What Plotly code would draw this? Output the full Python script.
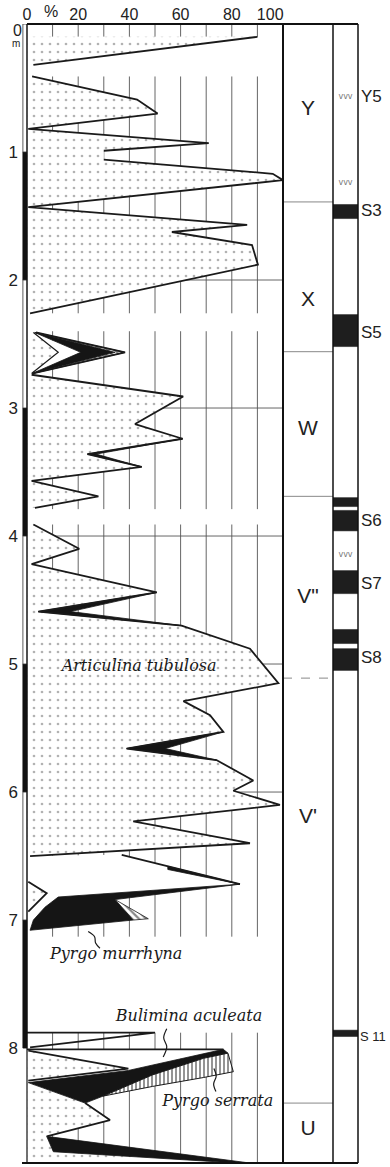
import plotly.graph_objects as go

# ---------------- axis / tick data ----------------
pct_tickvals = [0, 20, 40, 60, 80, 95]
pct_ticktext = ["0", "20", "40", "60", "80", "100"]
depth_tickvals = [1, 2, 3, 4, 5, 6, 7, 8]
grid_pct = [10, 20, 30, 40, 50, 60, 70, 80, 90]
grid_depth = [2, 3, 4, 5, 6]
grid_block_top = [0.0, 0.41, 2.40, 3.91, 7.88]
grid_block_bot = [0.10, 2.26, 3.79, 7.13, 8.898]
depth_bar_black_top = [1, 3, 5, 7]
depth_bar_white_top = [0, 2, 4, 6]

# ---------------- Articulina tubulosa (%), profile segments ----------------
art1_depth = [0.10, 0.32]
art1_pct = [90, 2.5]
art2_depth = [0.41, 0.59, 0.70, 0.82, 0.93, 0.99, 1.06, 1.17, 1.22, 1.43, 1.57, 1.625, 1.727, 1.88, 2.26]
art2_pct = [2, 43, 51, 0.5, 71, 30, 30, 96, 100, 0.5, 86, 56.6, 87.9, 90.2, 1.2]
art3_depth = [2.41, 2.565, 2.73]
art3_pct = [2.5, 12.2, 1.8]
art4_depth = [2.74, 2.91, 3.125, 3.24, 3.36, 3.46, 3.57, 3.69, 3.78]
art4_pct = [1.8, 61, 42.2, 60.8, 23.6, 44.8, 1.8, 27.9, 3.1]
art5_depth = [3.91, 4.10, 4.22, 4.44, 4.59, 4.70, 4.88, 5.15, 5.29, 5.40, 5.53, 5.66, 5.75,
              5.91, 5.99, 6.10, 6.23, 6.40, 6.50]
art5_pct = [2.5, 20.4, 1.8, 50.7, 4.4, 60.4, 87.1, 98.2, 61.1, 71.5, 76.7, 38.9, 74,
            88.4, 80.6, 98.8, 41.5, 87.1, 1.2]
art6_depth = [6.70, 6.79, 6.935]
art6_pct = [0.5, 7.7, 0.5]
art7_depth = [8.02, 8.16, 8.255]
art7_pct = [0.5, 39.6, 0.5]
art8_depth = [8.27, 8.43, 8.5625, 8.69, 8.81, 8.89, 8.898]
art8_pct = [0.5, 22.7, 32.4, 7.7, 10.3, 75.4, 75.4]

# ---------------- zigzag at 2.4-2.7 m (cumulative %) ----------------
zz_depth = [2.41, 2.565, 2.73]
zz_white = [3.0, 21.0, 2.0]
zz_black = [3.3, 34.4, 2.2]
zz_hatch = [3.5, 38.3, 2.3]

# ---------------- Pyrgo murrhyna slivers (cumulative %) ----------------
murr_a_depth = [3.24, 3.36, 3.46]
murr_a_lo = [60.8, 23.6, 44.8]
murr_a_hi = [60.8, 27.0, 44.8]
murr_b_depth = [4.44, 4.59, 4.70]
murr_b_lo = [50.7, 4.4, 60.4]
murr_b_hi = [50.7, 17.0, 60.4]
murr_c_depth = [5.53, 5.66, 5.75]
murr_c_lo = [76.7, 38.9, 74.0]
murr_c_hi = [76.7, 54.0, 74.0]

# ---------------- 6.5-7.1 m ----------------
bul1_pct = [0, 37, 83.2, 12.2, 7.0, 2.5, 1.2, 0]
bul1_depth = [6.50, 6.49, 6.72, 6.82, 6.90, 7.00, 7.08, 7.08]
murr_main_pct = [83.2, 12.2, 7.0, 2.5, 1.2, 41.5, 34.4]
murr_main_depth = [6.72, 6.82, 6.90, 7.00, 7.08, 7.00, 6.84]
murr_arm_pct = [55, 83.2, 55]
murr_arm_depth = [6.58, 6.72, 6.605]
ser1_pct = [34.4, 47.4, 41.5]
ser1_depth = [6.84, 6.99, 7.00]

# ---------------- 7.9-8.9 m ----------------
bul2_pct = [0, 50, 1.2]
bul2_depth = [7.88, 7.88, 7.995]
bul3_pct = [0, 76.7, 39.6, 0.5, 0]
bul3_depth = [8.01, 8.01, 8.175, 8.27, 8.27]
murr_bot_pct = [0.5, 39.6, 76.7, 78.5, 69, 49, 29.8, 22.7]
murr_bot_depth = [8.27, 8.175, 8.01, 8.04, 8.08, 8.21, 8.375, 8.43]
ser_bot_pct = [29.8, 49, 69, 78.5, 80.6, 69, 49]
ser_bot_depth = [8.375, 8.21, 8.08, 8.04, 8.185, 8.23, 8.30]
murr_base_pct = [7.7, 87, 75.4, 10.3]
murr_base_depth = [8.69, 8.898, 8.89, 8.81]

# ---------------- species labels & pointers ----------------
species_text = ["Articulina tubulosa", "Pyrgo murrhyna", "Bulimina aculeata", "Pyrgo serrata"]
species_pct = [43.8, 34.8, 63.3, 74.5]
species_depth = [5.02, 7.27, 7.76, 8.42]
ptr_murr_pct = [23.9, 26.4, 26.8, 28.5]
ptr_murr_depth = [7.09, 7.13, 7.18, 7.22]
ptr_bul_pct = [54.6, 53.4, 54.6, 53.2]
ptr_bul_depth = [7.85, 7.92, 7.99, 8.07]
ptr_ser_pct = [73.0, 73.9, 72.9, 73.8]
ptr_ser_depth = [8.16, 8.22, 8.28, 8.34]

# ---------------- stratigraphic units ----------------
unit_names = ["Y", "X", "W", 'V"', "V'", "U"]
unit_label_depth = [0.67, 2.16, 3.17, 4.48, 6.20, 8.64]
unit_bounds_solid = [1.39, 2.56, 3.69, 8.43]
unit_bounds_dashed = [5.11]

# ---------------- sapropel / tephra column ----------------
sap_top = [1.41, 2.27, 3.70, 3.80, 4.27, 4.73, 4.88, 7.86]
sap_bot = [1.52, 2.52, 3.77, 3.96, 4.45, 4.84, 5.05, 7.91]
layer_names = ["Y5", "S3", "S5", "S6", "S7", "S8", "S 11"]
layer_label_depth = [0.57, 1.46, 2.41, 3.88, 4.37, 4.95, 7.91]
ash_depth = [0.57, 1.24, 4.15]

# =====================================================================
LINE = "#1a1a1a"
BLACK = "#151515"
DOT = dict(shape=".", fgcolor="#666666", bgcolor="white", size=8, solidity=0.09)
HATCH_V = dict(shape="|", fgcolor="#111111", bgcolor="white", size=4, solidity=0.45)
HATCH_D = dict(shape="\\", fgcolor="#111111", bgcolor="white", size=5, solidity=0.45)

fig = go.Figure()


def add_poly(xs, ys, fillcolor="white", pattern=None, line_w=0, line_c=LINE, axis="x"):
    cx = list(xs) + [xs[0]]
    cy = list(ys) + [ys[0]]
    kw = dict(x=cx, y=cy, mode="lines", fill="toself", fillcolor=fillcolor,
              line=dict(width=line_w, color=line_c), hoverinfo="skip",
              showlegend=False, xaxis=axis, yaxis="y")
    if pattern is not None:
        kw["fillpattern"] = pattern
    fig.add_trace(go.Scatter(**kw))


def profile(depth, pct):
    return [0] + list(pct) + [0], [depth[0]] + list(depth) + [depth[-1]]


def band(depth, lo, hi):
    return list(lo) + list(hi)[::-1], list(depth) + list(depth)[::-1]


# white (unpatterned) bands that hide the grid
add_poly(bul1_pct, bul1_depth, fillcolor="white")
add_poly(bul3_pct, bul3_depth, fillcolor="white")
bx, by = band(zz_depth, art3_pct, zz_white)
add_poly(bx, by, fillcolor="white")

# Articulina dotted fills
for d, p in [(art1_depth, art1_pct), (art2_depth, art2_pct), (art3_depth, art3_pct),
             (art4_depth, art4_pct), (art5_depth, art5_pct), (art6_depth, art6_pct),
             (art7_depth, art7_pct), (art8_depth, art8_pct)]:
    px_, py_ = profile(d, p)
    add_poly(px_, py_, fillcolor="white", pattern=DOT)

# black Pyrgo murrhyna
for d, lo, hi in [(zz_depth, zz_white, zz_black), (murr_a_depth, murr_a_lo, murr_a_hi),
                  (murr_b_depth, murr_b_lo, murr_b_hi), (murr_c_depth, murr_c_lo, murr_c_hi)]:
    bx, by = band(d, lo, hi)
    add_poly(bx, by, fillcolor=BLACK, line_w=0.8, line_c=BLACK)
add_poly(murr_main_pct, murr_main_depth, fillcolor=BLACK, line_w=0.8, line_c=BLACK)
add_poly(murr_arm_pct, murr_arm_depth, fillcolor=BLACK, line_w=0.8, line_c=BLACK)
add_poly(murr_bot_pct, murr_bot_depth, fillcolor=BLACK, line_w=0.8, line_c=BLACK)
add_poly(murr_base_pct, murr_base_depth, fillcolor=BLACK, line_w=0.8, line_c=BLACK)

# hatched Pyrgo serrata
bx, by = band(zz_depth, zz_black, zz_hatch)
add_poly(bx, by, fillcolor="white", pattern=HATCH_D, line_w=0.8)
add_poly(ser1_pct, ser1_depth, fillcolor="white", pattern=HATCH_D, line_w=0.8)
add_poly(ser_bot_pct, ser_bot_depth, fillcolor="white", pattern=HATCH_V, line_w=1)

# outlines
segs = [
    (art1_pct, art1_depth),
    (art2_pct[:6], art2_depth[:6]),
    (art2_pct[6:], art2_depth[6:]),
    (zz_hatch, zz_depth),
    (art4_pct, art4_depth),
    (art5_pct, art5_depth),
    (art6_pct, art6_depth),
    (bul1_pct[1:3], bul1_depth[1:3]),
    (bul2_pct, bul2_depth),
    (bul3_pct[:2], bul3_depth[:2]),
    (art7_pct, art7_depth),
    (art8_pct[1:4], art8_depth[1:4]),
]
ox, oy = [], []
for p, d in segs:
    ox += list(p) + [None]
    oy += list(d) + [None]
fig.add_trace(go.Scatter(x=ox, y=oy, mode="lines", line=dict(color=LINE, width=1.8),
                         hoverinfo="skip", showlegend=False))
fig.add_trace(go.Scatter(x=art3_pct, y=art3_depth, mode="lines", line=dict(color=LINE, width=1.2),
                         hoverinfo="skip", showlegend=False))

# pointers
for p, d in [(ptr_murr_pct, ptr_murr_depth), (ptr_bul_pct, ptr_bul_depth), (ptr_ser_pct, ptr_ser_depth)]:
    fig.add_trace(go.Scatter(x=p, y=d, mode="lines", line=dict(color=LINE, width=1.2, shape="spline"),
                             hoverinfo="skip", showlegend=False))

# species labels
fig.add_trace(go.Scatter(x=species_pct, y=species_depth, text=species_text, mode="text",
                         textfont=dict(family="DejaVu Serif", size=16, color="#1a1a1a", style="italic"),
                         hoverinfo="skip", showlegend=False, cliponaxis=False))

# units column (x2)
fig.add_trace(go.Scatter(x=[0.5] * len(unit_names), y=unit_label_depth, text=unit_names, mode="text",
                         textfont=dict(family="Liberation Sans", size=21, color="#222"),
                         xaxis="x2", yaxis="y", hoverinfo="skip", showlegend=False))

# sapropel column (x3)
for t, b in zip(sap_top, sap_bot):
    add_poly([0, 1, 1, 0], [t, t, b, b], fillcolor="#1e1e1e", line_w=0.5, line_c="#1e1e1e", axis="x3")
fig.add_trace(go.Scatter(x=[0.5] * len(ash_depth), y=ash_depth, text=["vvv"] * len(ash_depth), mode="text",
                         textfont=dict(family="DejaVu Sans", size=8, color="#777"),
                         xaxis="x3", yaxis="y", hoverinfo="skip", showlegend=False))

# ---------------- shapes ----------------
shapes = []
for t, b in zip(grid_block_top, grid_block_bot):
    for g in grid_pct:
        shapes.append(dict(type="line", xref="x", yref="y", x0=g, x1=g, y0=t, y1=b,
                           line=dict(color="#555", width=0.9), layer="below"))
for d in grid_depth:
    shapes.append(dict(type="line", xref="x", yref="y", x0=0, x1=100, y0=d, y1=d,
                       line=dict(color="#555", width=0.9), layer="below"))
for t in depth_bar_black_top:
    shapes.append(dict(type="rect", xref="x", yref="y", x0=-1.6, x1=0, y0=t, y1=t + 1,
                       fillcolor="#111", line=dict(color="#111", width=0.8)))
for t in depth_bar_white_top:
    shapes.append(dict(type="rect", xref="x", yref="y", x0=-1.6, x1=0, y0=t, y1=t + 1,
                       fillcolor="white", line=dict(color="#333", width=0.8)))
for d in unit_bounds_solid:
    shapes.append(dict(type="line", xref="x2", yref="y", x0=0, x1=1, y0=d, y1=d,
                       line=dict(color="#888", width=1)))
for d in unit_bounds_dashed:
    shapes.append(dict(type="line", xref="x2", yref="y", x0=0, x1=1, y0=d, y1=d,
                       line=dict(color="#888", width=1, dash="dash")))

W_PLOT = 336.0
def px(xp):
    return (xp - 22) / W_PLOT

frame = [
    (px(27), 1, 1, 1, 2.2),
    (0, 0, 1, 0, 2.0),
    (px(27), 0, px(27), 1, 1.2),
    (px(283), 0, px(283), 1, 2.0),
    (px(333), 0, px(333), 1, 1.5),
    (1, 0, 1, 1, 1.5),
]
for x0, y0, x1, y1, w in frame:
    shapes.append(dict(type="line", xref="paper", yref="paper", x0=x0, y0=y0, x1=x1, y1=y1,
                       line=dict(color="#111", width=w)))

# ---------------- annotations ----------------
ann = [
    dict(text="%", xref="x", yref="paper", x=9.5, y=1, yanchor="bottom", yshift=2, showarrow=False,
         font=dict(family="Liberation Sans", size=16, color="#222")),
    dict(text="0", xref="paper", yref="y", x=px(11), y=0.05, showarrow=False,
         font=dict(family="Liberation Sans", size=16, color="#222")),
    dict(text="m", xref="paper", yref="y", x=px(10), y=0.15, showarrow=False,
         font=dict(family="Liberation Sans", size=10, color="#222")),
]
for name, d in zip(layer_names, layer_label_depth):
    long_name = len(name) > 3
    ann.append(dict(text=name, xref="paper", yref="y", x=px(359 if long_name else 360), y=d,
                    xanchor="left", showarrow=False, borderpad=0,
                    font=dict(family="Liberation Sans", size=13 if long_name else 17, color="#222")))

fig.update_layout(
    width=390, height=1167,
    margin=dict(l=22, r=32, t=24, b=4, pad=0),
    paper_bgcolor="white", plot_bgcolor="white",
    showlegend=False,
    shapes=shapes, annotations=ann,
    xaxis=dict(domain=[0, 261 / W_PLOT], range=[-1.95, 100], side="top", showgrid=False,
               zeroline=False, showline=False, tickvals=pct_tickvals, ticktext=pct_ticktext,
               ticks="", tickfont=dict(family="Liberation Sans", size=16, color="#222"), fixedrange=True),
    xaxis2=dict(domain=[261 / W_PLOT, 311 / W_PLOT], range=[0, 1], anchor="y", visible=False, fixedrange=True),
    xaxis3=dict(domain=[311 / W_PLOT, 1], range=[0, 1], anchor="y", visible=False, fixedrange=True),
    yaxis=dict(range=[8.898, 0], showgrid=False, zeroline=False, showline=False,
               tickvals=depth_tickvals, ticks="", ticklabelstandoff=3,
               tickfont=dict(family="Liberation Sans", size=17, color="#222"), fixedrange=True),
)

fig.write_html("out.html")
